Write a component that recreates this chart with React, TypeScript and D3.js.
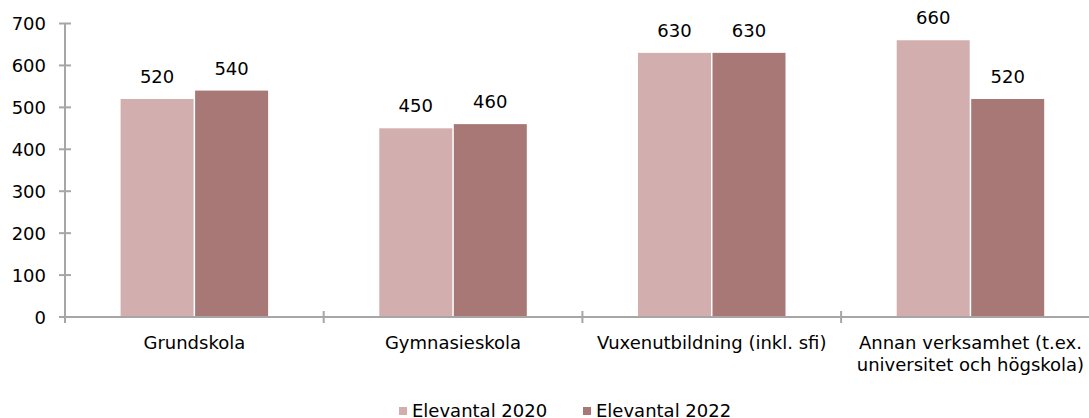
import React from "react";
import * as d3 from "d3";

const categories = [
  ["Grundskola"],
  ["Gymnasieskola"],
  ["Vuxenutbildning (inkl. sfi)"],
  ["Annan verksamhet (t.ex.", "universitet och högskola)"],
];
const series2020 = [520, 450, 630, 660];
const series2022 = [540, 460, 630, 520];
const seriesNames = ["Elevantal 2020", "Elevantal 2022"];
const yTicks = [0, 100, 200, 300, 400, 500, 600, 700];

const colors = ["#d3aeae", "#a87876"];
const axisColor = "#a6a6a6";
const font = "'DejaVu Sans', Verdana, sans-serif";

export default function App() {
  const W = 1089;
  const H = 418;
  const x0 = 65;
  const step = 258.7;
  const x = d3
    .scaleBand<number>()
    .domain(categories.map((_, i) => i))
    .range([x0, x0 + step * categories.length])
    .paddingInner(0)
    .paddingOuter(0);
  const y = d3.scaleLinear().domain([0, 700]).range([317, 23.5]);
  const barW = 73;
  const gap = 1.5;
  const series = [series2020, series2022];

  return (
    <svg
      width={W}
      height={H}
      style={{ position: "absolute", left: 0, top: 0, fontFamily: font }}
    >
      <rect width={W} height={H} fill="#fff" />
      {/* bars */}
      {series.map((vals, s) =>
        vals.map((v, i) => {
          const c = (x(i) as number) + x.bandwidth() / 2;
          const bx = s === 0 ? c - barW - gap / 2 : c + gap / 2;
          return (
            <g key={`b${s}-${i}`}>
              <rect
                x={bx}
                y={y(v)}
                width={barW}
                height={y(0) - y(v)}
                fill={colors[s]}
              />
              <text
                x={bx + barW / 2}
                y={y(v) - 16}
                textAnchor="middle"
                fontSize={18}
                fill="#000"
              >
                {v}
              </text>
            </g>
          );
        })
      )}
      {/* y axis */}
      <line x1={x0} x2={x0} y1={y(700)} y2={y(0) + 6} stroke={axisColor} strokeWidth={2} />
      {yTicks.map((t) => (
        <g key={`yt${t}`}>
          <line x1={x0 - 6} x2={x0 + 6} y1={y(t)} y2={y(t)} stroke={axisColor} strokeWidth={2} />
          <text x={46} y={y(t) + 6.5} textAnchor="end" fontSize={18} fill="#000">
            {t}
          </text>
        </g>
      ))}
      {/* x axis */}
      <line x1={x0 - 6} x2={x0 + step * categories.length} y1={y(0)} y2={y(0)} stroke={axisColor} strokeWidth={2} />
      {categories.map((_, i) => (
        <line
          key={`xt${i}`}
          x1={(x(i) as number) + step}
          x2={(x(i) as number) + step}
          y1={y(0) - 6}
          y2={y(0) + 6}
          stroke={axisColor}
          strokeWidth={2}
        />
      ))}
      {categories.map((lines, i) => (
        <text
          key={`cl${i}`}
          x={(x(i) as number) + x.bandwidth() / 2}
          y={349}
          textAnchor="middle"
          fontSize={18}
          fill="#000"
        >
          {lines.map((l, k) => (
            <tspan key={k} x={(x(i) as number) + x.bandwidth() / 2} dy={k === 0 ? 0 : 22}>
              {l}
            </tspan>
          ))}
        </text>
      ))}
      {/* legend */}
      {seriesNames.map((n, s) => {
        const lx = s === 0 ? 399 : 583;
        return (
          <g key={`lg${s}`}>
            <rect x={lx} y={407} width={8} height={8} fill={colors[s]} />
            <text x={lx + 13} y={417} fontSize={18} fill="#000">
              {n}
            </text>
          </g>
        );
      })}
    </svg>
  );
}
